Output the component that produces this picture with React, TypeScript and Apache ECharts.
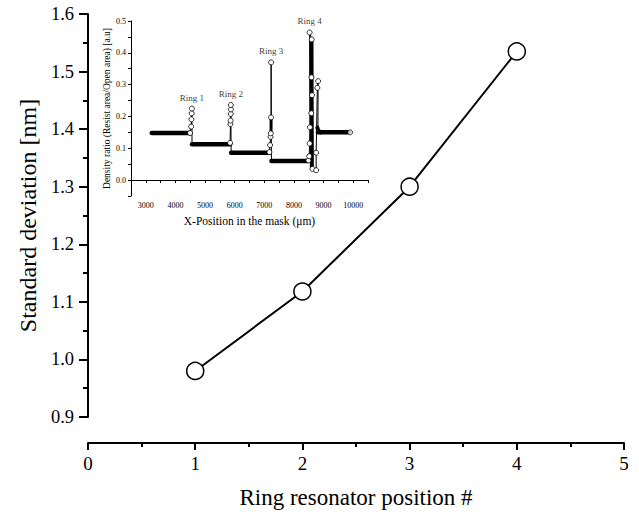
import React, { useEffect, useRef } from "react";
import * as echarts from "echarts";

// Main chart data
const ringPosition = [1, 2, 3, 4];
const stdDeviation = [0.98, 1.118, 1.3, 1.535];

// Inset: density plateaus
const plateauStart = [3200, 4560, 5880, 7240, 8810];
const plateauEnd = [4493, 5845, 7172, 8490, 9900];
const plateauLevel = [0.148, 0.113, 0.086, 0.06, 0.15];

// Inset: ring transitions (thin trace with open circles)
const ring1X = [4493, 4530, 4540, 4548, 4555, 4560];
const ring1Y = [0.148, 0.168, 0.191, 0.21, 0.225, 0.113];
const ring2X = [5845, 5855, 5862, 5868, 5872, 5870, 5880];
const ring2Y = [0.117, 0.176, 0.187, 0.208, 0.222, 0.236, 0.086];
const ring3X = [7172, 7195, 7210, 7220, 7228, 7230, 7240];
const ring3Y = [0.088, 0.11, 0.136, 0.147, 0.197, 0.37, 0.06];
const ring4X = [8490, 8515, 8530, 8540, 8530, 8600, 8590, 8610, 8585, 8625, 8750, 8750, 8790, 8815, 8810];
const ring4Y = [0.062, 0.075, 0.115, 0.166, 0.464, 0.442, 0.323, 0.267, 0.21, 0.035, 0.031, 0.086, 0.29, 0.311, 0.157];

// Inset: thick dense strokes inside the transitions
const thick1X = [8592, 8605];
const thick1Y = [0.44, 0.04];
const thick2X = [7226, 7230];
const thick2Y = [0.147, 0.197];
const thick3X = [8790, 8815, 8900];
const thick3Y = [0.165, 0.157, 0.15];

// Ring labels
const ringNames = ["Ring 1", "Ring 2", "Ring 3", "Ring 4"];
const ringTopX = [4555, 5870, 7230, 8530];
const ringTopY = [0.225, 0.236, 0.37, 0.464];

const FONT = "'Liberation Serif', 'Times New Roman', serif";

export default function App() {
  const ref = useRef<HTMLDivElement>(null);
  useEffect(() => {
    const chart = echarts.init(ref.current!, null, { renderer: "svg" });

    const traceSeries = (xs: number[], ys: number[]) => ({
      type: "line",
      xAxisIndex: 1,
      yAxisIndex: 1,
      data: xs.map((x, i) =>
        i === xs.length - 1 ? { value: [x, ys[i]], symbol: "none" } : { value: [x, ys[i]] }
      ),
      symbol: "circle",
      symbolSize: 5,
      showSymbol: true,
      itemStyle: { color: "#fff", borderColor: "#000", borderWidth: 0.8 },
      lineStyle: { color: "#000", width: 1 },
      z: 5,
    });

    const thickSeries = (xs: number[], ys: number[], w: number) => ({
      type: "line",
      xAxisIndex: 1,
      yAxisIndex: 1,
      data: xs.map((x, i) => [x, ys[i]]),
      symbol: "none",
      lineStyle: { color: "#000", width: w, cap: "round" },
      z: 4,
    });

    const option: any = {
      animation: false,
      backgroundColor: "#fff",
      grid: [
        { left: 88, right: 15, top: 14, bottom: 97 },
        { left: 131, top: 21, width: 237, height: 175 },
      ],
      xAxis: [
        {
          type: "value",
          gridIndex: 0,
          min: 0,
          max: 5,
          interval: 1,
          offset: 26,
          axisLine: { lineStyle: { color: "#000", width: 2 } },
          axisTick: { inside: false, length: 7, lineStyle: { color: "#000", width: 2 } },
          minorTick: { show: true, splitNumber: 2, length: 4, lineStyle: { color: "#000", width: 2 } },
          splitLine: { show: false },
          axisLabel: { color: "#000", fontFamily: FONT, fontSize: 19, margin: 11 },
          name: "Ring resonator position #",
          nameLocation: "middle",
          nameGap: 43,
          nameTextStyle: { color: "#000", fontFamily: FONT, fontSize: 23 },
        },
        {
          type: "value",
          gridIndex: 1,
          min: 2500,
          max: 10500,
          interval: 500,
          axisLine: { lineStyle: { color: "#000", width: 1 } },
          axisTick: { length: 3, lineStyle: { color: "#000", width: 1 } },
          splitLine: { show: false },
          axisLabel: {
            color: "#000",
            fontFamily: FONT,
            fontSize: 8,
            margin: 5,
            formatter: (v: number) => (Math.round(v) % 1000 === 0 ? String(Math.round(v)) : ""),
          },
          name: "X-Position in the mask (\u03bcm)",
          nameLocation: "middle",
          nameGap: 19,
          nameTextStyle: { color: "#000", fontFamily: FONT, fontSize: 11.5 },
        },
      ],
      yAxis: [
        {
          type: "value",
          gridIndex: 0,
          min: 0.9,
          max: 1.6,
          interval: 0.1,
          axisLine: { show: true, lineStyle: { color: "#000", width: 2 } },
          axisTick: { show: true, length: 9, lineStyle: { color: "#000", width: 2 } },
          minorTick: { show: true, splitNumber: 2, length: 5, lineStyle: { color: "#000", width: 2 } },
          splitLine: { show: false },
          axisLabel: {
            color: "#000",
            fontFamily: FONT,
            fontSize: 18.5,
            margin: 14,
            formatter: (v: number) => v.toFixed(1),
          },
          name: "Standard deviation [nm]",
          nameLocation: "middle",
          nameGap: 46,
          nameTextStyle: { color: "#000", fontFamily: FONT, fontSize: 24 },
        },
        {
          type: "value",
          gridIndex: 1,
          min: -0.05,
          max: 0.5,
          interval: 0.05,
          axisLine: { show: true, lineStyle: { color: "#000", width: 1 } },
          axisTick: { show: true, length: 3, lineStyle: { color: "#000", width: 1 } },
          splitLine: { show: false },
          axisLabel: {
            color: "#000",
            fontFamily: FONT,
            fontSize: 8,
            margin: 5,
            formatter: (v: number) => {
              const t = Math.round(v * 100);
              return t % 10 === 0 ? (t / 100).toFixed(1) : "";
            },
          },
          name: "Density ratio (Resist area/Open area) [a.u]",
          nameLocation: "middle",
          nameGap: 19,
          nameTextStyle: { color: "#000", fontFamily: FONT, fontSize: 9.5 },
        },
      ],
      series: [
        {
          type: "line",
          xAxisIndex: 0,
          yAxisIndex: 0,
          data: ringPosition.map((x, i) => [x, stdDeviation[i]]),
          symbol: "circle",
          symbolSize: 17,
          itemStyle: { color: "#fff", borderColor: "#000", borderWidth: 1.5 },
          lineStyle: { color: "#000", width: 2 },
          z: 3,
        },
        ...plateauStart.map((s, i) => ({
          type: "line",
          xAxisIndex: 1,
          yAxisIndex: 1,
          data: [
            [s, plateauLevel[i]],
            [plateauEnd[i], plateauLevel[i]],
          ],
          symbol: "none",
          lineStyle: { color: "#000", width: 4.5, cap: "round" },
          z: 4,
        })),
        thickSeries(thick1X, thick1Y, 4),
        thickSeries(thick2X, thick2Y, 3),
        thickSeries(thick3X, thick3Y, 4),
        traceSeries(ring1X, ring1Y),
        traceSeries(ring2X, ring2Y),
        traceSeries(ring3X, ring3Y),
        traceSeries(ring4X, ring4Y),
        {
          type: "scatter",
          xAxisIndex: 1,
          yAxisIndex: 1,
          data: [[plateauEnd[4], plateauLevel[4]]],
          symbol: "circle",
          symbolSize: 5,
          itemStyle: { color: "#fff", borderColor: "#000", borderWidth: 0.8 },
          z: 6,
        },
        {
          type: "scatter",
          xAxisIndex: 1,
          yAxisIndex: 1,
          data: ringTopX.map((x, i) => ({ value: [x, ringTopY[i]], name: ringNames[i] })),
          symbolSize: 1,
          itemStyle: { color: "transparent" },
          label: {
            show: true,
            position: "top",
            distance: 6,
            formatter: (p: any) => p.name,
            color: "#000",
            fontFamily: FONT,
            fontSize: 9,
          },
          z: 6,
        },
      ],
    };
    chart.setOption(option);
    return () => chart.dispose();
  }, []);
  return (
    <div
      ref={ref}
      style={{ position: "absolute", left: 0, top: 0, width: 639, height: 514, background: "#fff" }}
    />
  );
}
